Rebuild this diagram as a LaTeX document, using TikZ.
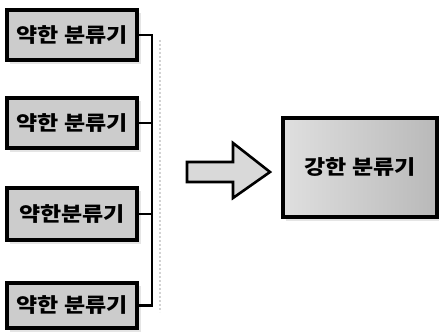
\documentclass[tikz,border=0pt]{standalone}
\usepackage{fontspec}
\newfontfamily\kr{Noto Sans CJK KR Black}[FakeStretch=1.15]
\usetikzlibrary{calc}
\tikzset{
  wbox/.style={draw=black, line width=4pt, fill=gray!40, minimum width=130pt, minimum height=50pt, inner sep=0pt, font=\kr\fontsize{20}{20}\selectfont},
  sbox/.style={draw=black, line width=4pt, left color=gray!25, right color=gray!55, minimum width=154pt, minimum height=99pt, inner sep=0pt, font=\kr\fontsize{20}{20}\selectfont},
  conn/.style={draw=black, line width=2.6pt},
  shadowline/.style={draw=gray!35, line width=2pt, dotted},
  blockarrow/.style={draw=black, line width=2.6pt, fill=gray!30, line join=miter}
}
\begin{document}
\begin{tikzpicture}[x=1pt,y=-1pt]
\useasboundingbox (0,0) rectangle (439,336);
% shadows
\fill[gray!20] (10,13) rectangle (141,64);
\fill[gray!20] (10,101) rectangle (141,152);
\fill[gray!20] (10,191) rectangle (141,244);
\fill[gray!20] (10,286) rectangle (141,332);
\fill[gray!20] (286,121) rectangle (440,221);
\draw[shadowline] (160,40) -- (160,312);
% weak classifiers
\node[wbox] (w1) at (72,35) {약한 분류기};
\node[wbox] (w2) at (72,123) {약한 분류기};
\node[wbox, minimum height=52pt] (w3) at (72,214) {약한분류기};
\node[wbox, minimum height=45pt] (w4) at (72,305.5) {약한 분류기};
% bus
\coordinate (bus1) at (152,35);
\coordinate (bus4) at (152,305.5);
\draw[conn] (w1.east) -- (bus1) -- (bus4) -- (w4.east);
\draw[conn] (w2.east) -- (w2.east -| bus1);
\draw[conn] (w3.east) -- (w3.east -| bus1);
% arrow
\draw[blockarrow] (187,162) -- (233,162) -- (233,143) -- (270,172) -- (233,198) -- (233,182) -- (187,182) -- cycle;
% strong classifier
\node[sbox] (s) at (360,167.5) {강한 분류기};
\end{tikzpicture}
\end{document}
